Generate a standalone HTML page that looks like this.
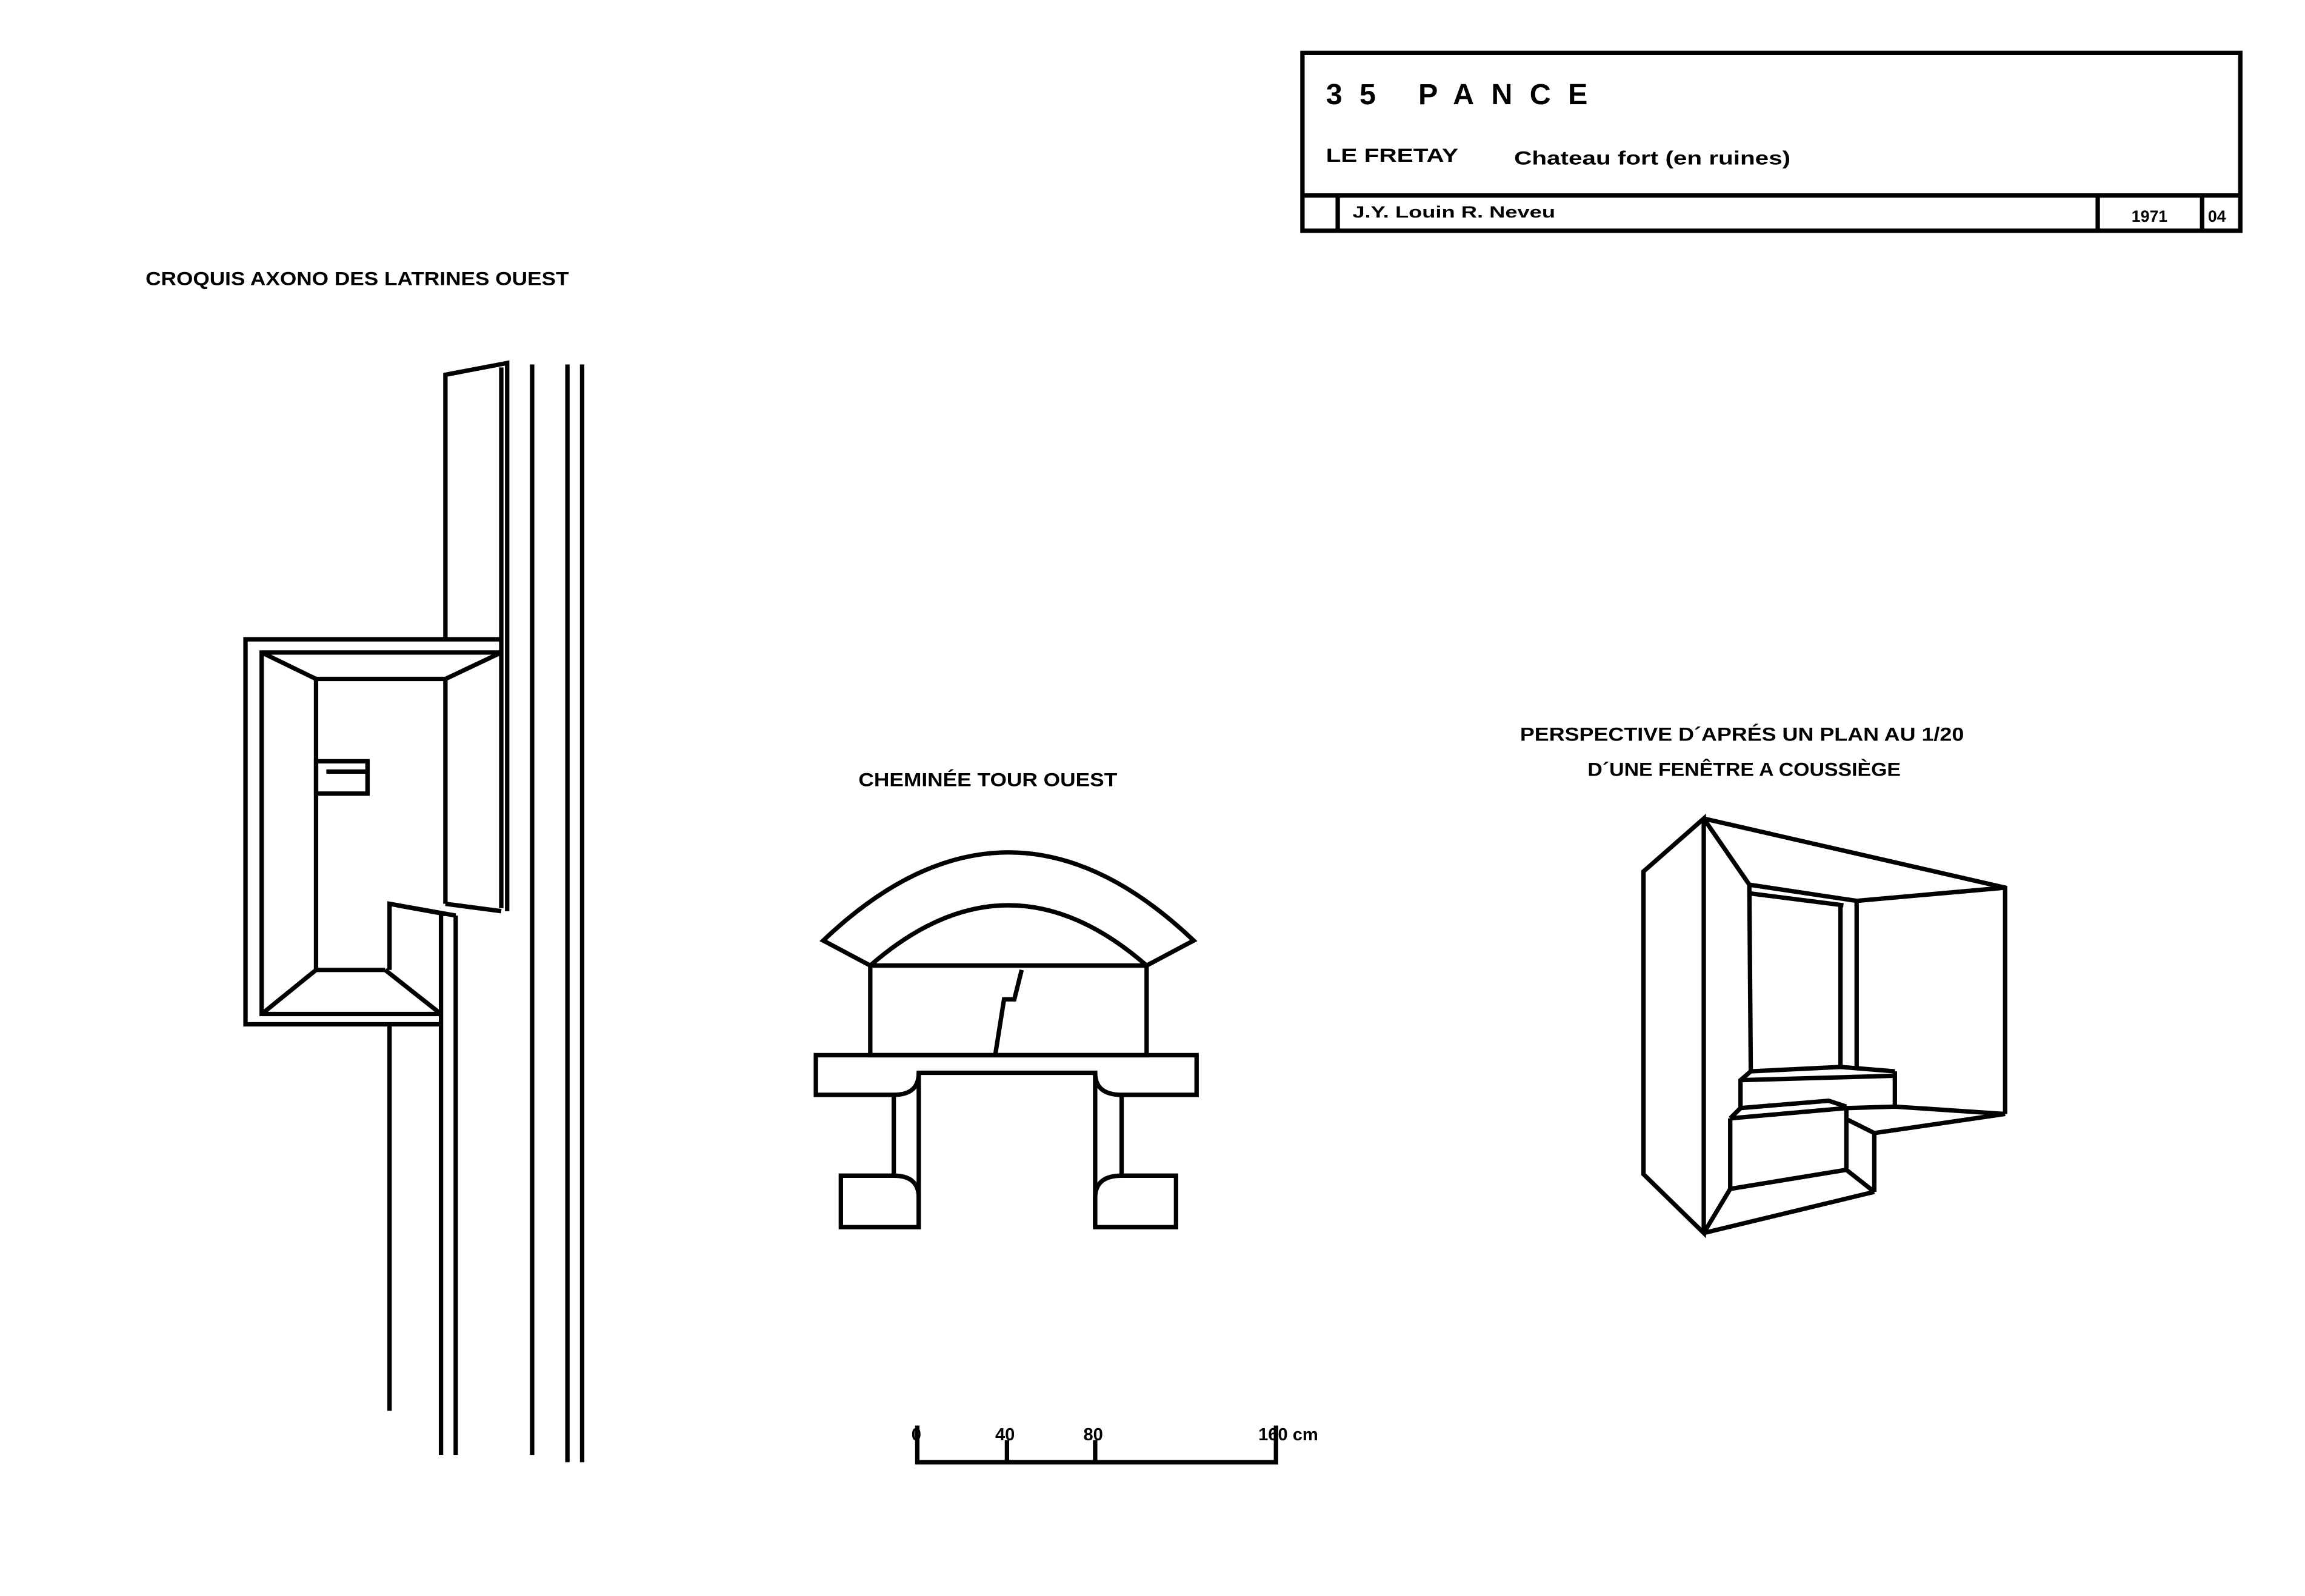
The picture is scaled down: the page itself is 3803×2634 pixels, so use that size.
<!DOCTYPE html>
<html><head><meta charset="utf-8"><style>
html,body{margin:0;padding:0;background:#fff}
svg{display:block}
text{font-family:"Liberation Sans",sans-serif;font-weight:bold;fill:#000}
</style></head><body>
<svg width="3803" height="2634" viewBox="0 0 1568 1086" xmlns="http://www.w3.org/2000/svg">
<rect width="1568" height="1086" fill="#fff"/>
<g fill="none" stroke="#000" stroke-width="3" stroke-linejoin="miter">
<!-- title block -->
<rect x="886" y="36" width="638" height="121"/>
<line x1="886" y1="133" x2="1524" y2="133"/>
<line x1="910" y1="133" x2="910" y2="157"/>
<line x1="1427" y1="133" x2="1427" y2="157"/>
<line x1="1498" y1="133" x2="1498" y2="157"/>

<!-- latrines -->
<polyline points="303,435 303,255 345,247 345,620"/>
<line x1="303" y1="462" x2="303" y2="615"/>
<line x1="341" y1="250" x2="341" y2="618"/>
<line x1="303" y1="615" x2="341" y2="620"/>
<line x1="362" y1="248" x2="362" y2="990"/>
<line x1="386" y1="248" x2="386" y2="995"/>
<line x1="396" y1="248" x2="396" y2="995"/>
<polyline points="341,435 167,435 167,697 300,697"/>
<polyline points="341,444 178,444 178,690 300,690"/>
<line x1="178" y1="444" x2="215" y2="462"/>
<line x1="341" y1="444" x2="303" y2="462"/>
<line x1="178" y1="690" x2="215" y2="660"/>
<line x1="262" y1="660" x2="300" y2="690"/>
<polyline points="303,462 215,462 215,660 262,660"/>
<rect x="215" y="518" width="35" height="22"/>
<line x1="222" y1="525" x2="250" y2="525"/>
<polyline points="265,660 265,615 310,623"/>
<line x1="270" y1="616" x2="303" y2="622"/>
<line x1="300" y1="622" x2="300" y2="990"/>
<line x1="310" y1="623" x2="310" y2="990"/>
<line x1="265" y1="697" x2="265" y2="960"/>

<!-- cheminee -->
<path d="M560,640 Q686,520 812,640 L780,657 Q686,575 592,657 Z"/>
<rect x="592" y="657" width="188" height="61"/>
<polyline points="695,660 690,680 683,680 677,718"/>
<path d="M555,718 H814 V745 H763 Q745,745 745,730 H625 Q625,745 608,745 H555 Z"/>
<line x1="608" y1="745" x2="608" y2="800"/>
<line x1="763" y1="745" x2="763" y2="800"/>
<line x1="625" y1="730" x2="625" y2="835"/>
<line x1="745" y1="730" x2="745" y2="835"/>
<path d="M572,800 H608 Q625,800 625,815 V835 H572 Z"/>
<path d="M800,800 H763 Q745,800 745,815 V835 H800 Z"/>

<!-- scale -->
<polyline points="624,970 624,995 868,995 868,970"/>
<line x1="685" y1="980" x2="685" y2="995"/>
<line x1="745" y1="980" x2="745" y2="995"/>

<!-- perspective -->
<polygon points="1118,593 1159,557 1159,839 1118,799"/>
<polyline points="1159,557 1364,604 1364,758"/>
<line x1="1159" y1="557" x2="1190" y2="602"/>
<line x1="1190" y1="602" x2="1263" y2="613"/>
<line x1="1263" y1="613" x2="1364" y2="604"/>
<line x1="1190" y1="602" x2="1191" y2="730"/>
<line x1="1191" y1="608" x2="1254" y2="616"/>
<line x1="1252" y1="616" x2="1252" y2="726"/>
<line x1="1263" y1="613" x2="1263" y2="728"/>
<polyline points="1191,729 1252,726 1289,729"/>
<polyline points="1191,729 1184,735 1184,754"/>
<line x1="1184" y1="735" x2="1289" y2="732"/>
<line x1="1289" y1="729" x2="1289" y2="753"/>
<polyline points="1184,754 1244,749 1256,753"/>
<line x1="1184" y1="754" x2="1177" y2="761"/>
<line x1="1177" y1="761" x2="1256" y2="754"/>
<line x1="1256" y1="753" x2="1256" y2="796"/>
<line x1="1177" y1="761" x2="1177" y2="809"/>
<polyline points="1177,809 1256,796 1275,811"/>
<polyline points="1256,754 1289,753 1364,758"/>
<polyline points="1257,762 1275,771 1364,758"/>
<line x1="1275" y1="771" x2="1275" y2="811"/>
<line x1="1159" y1="839" x2="1275" y2="811"/>
<line x1="1159" y1="839" x2="1177" y2="809"/>
</g>

<text x="902" y="71" font-size="20" textLength="178" lengthAdjust="spacing">35  PANCE</text>
<text x="902" y="110" font-size="13" textLength="90" lengthAdjust="spacingAndGlyphs">LE  FRETAY</text>
<text x="1030" y="112" font-size="13" textLength="188" lengthAdjust="spacingAndGlyphs">Chateau fort (en  ruines)</text>
<text x="920" y="148" font-size="11" textLength="138" lengthAdjust="spacingAndGlyphs">J.Y. Louin   R. Neveu</text>
<text x="1450" y="151" font-size="11">1971</text>
<text x="1502" y="151" font-size="11">04</text>
<text x="99" y="194" font-size="13" textLength="288" lengthAdjust="spacingAndGlyphs">CROQUIS  AXONO DES  LATRINES  OUEST</text>
<text x="584" y="535" font-size="13" textLength="176" lengthAdjust="spacingAndGlyphs">CHEMINÉE  TOUR  OUEST</text>
<text x="1034" y="504" font-size="13" textLength="302" lengthAdjust="spacingAndGlyphs">PERSPECTIVE D´APRÉS UN PLAN AU 1/20</text>
<text x="1080" y="528" font-size="13" textLength="213" lengthAdjust="spacingAndGlyphs">D´UNE FENÊTRE A COUSSIÈGE</text>
<text x="620" y="980" font-size="12">0</text>
<text x="677" y="980" font-size="12">40</text>
<text x="737" y="980" font-size="12">80</text>
<text x="856" y="980" font-size="12">160 cm</text>
</svg>
</body></html>
